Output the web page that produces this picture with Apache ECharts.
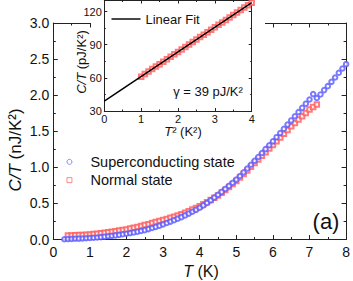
<!DOCTYPE html>
<html><head><meta charset="utf-8">
<script src="https://cdn.jsdelivr.net/npm/echarts@6/dist/echarts.min.js"></script>
<style>html,body{margin:0;padding:0;background:#fff}#c{width:353px;height:281px}</style>
</head><body><div id="c"></div>
<script>
// Superconducting state (blue circles): T (K) and C/T (nJ/K^2)
const tSC = [0.3,0.4,0.5,0.6,0.7,0.8,0.9,1.0,1.1,1.2,1.3,1.4,1.5,1.6,1.7,1.8,1.9,2.0,2.1,2.2,2.3,2.4,2.5,2.6,2.7,2.8,2.9,3.0,3.1,3.2,3.3,3.4,3.5,3.6,3.7,3.8,3.9,4.0,4.1,4.2,4.3,4.4,4.5,4.6,4.7,4.8,4.9,5.0,5.1,5.2,5.3,5.4,5.5,5.6,5.7,5.8,5.9,6.0,6.1,6.2,6.3,6.4,6.5,6.6,6.7,6.8,6.9,7.0,7.1,7.2,7.3,7.4,7.5,7.6,7.7,7.8,7.9,8.0];
const cSC = [0.004,0.006,0.008,0.010,0.012,0.014,0.017,0.020,0.024,0.028,0.033,0.039,0.045,0.051,0.057,0.064,0.072,0.080,0.089,0.098,0.108,0.119,0.130,0.144,0.159,0.175,0.192,0.210,0.229,0.248,0.268,0.289,0.310,0.334,0.359,0.384,0.411,0.440,0.473,0.507,0.543,0.581,0.620,0.660,0.701,0.743,0.786,0.830,0.880,0.931,0.983,1.036,1.090,1.144,1.198,1.252,1.306,1.360,1.418,1.476,1.534,1.592,1.650,1.708,1.766,1.824,1.882,1.940,2.015,1.960,2.010,2.070,2.125,2.185,2.245,2.310,2.370,2.430];
// Normal state (red squares)
const tN = [0.4,0.5,0.6,0.7,0.8,0.9,1.0,1.1,1.2,1.3,1.4,1.5,1.6,1.7,1.8,1.9,2.0,2.1,2.2,2.3,2.4,2.5,2.6,2.7,2.8,2.9,3.0,3.1,3.2,3.3,3.4,3.5,3.6,3.7,3.8,3.9,4.0,4.1,4.2,4.3,4.4,4.5,4.6,4.7,4.8,4.9,5.0,5.1,5.2,5.3,5.4,5.5,5.6,5.7,5.8,5.9,6.0,6.1,6.2,6.3,6.4,6.5,6.6,6.7,6.8,6.9,7.0,7.1,7.2];
const cN = [0.055,0.057,0.059,0.061,0.064,0.067,0.070,0.075,0.080,0.085,0.092,0.100,0.107,0.115,0.123,0.131,0.140,0.151,0.162,0.174,0.187,0.200,0.213,0.227,0.241,0.255,0.270,0.285,0.300,0.316,0.333,0.350,0.371,0.392,0.414,0.437,0.460,0.487,0.516,0.546,0.578,0.610,0.648,0.687,0.727,0.768,0.810,0.858,0.907,0.957,1.008,1.060,1.110,1.160,1.210,1.260,1.310,1.362,1.414,1.466,1.518,1.570,1.616,1.662,1.708,1.754,1.800,1.835,1.870];
// Inset: T^2 (K^2) and C/T (pJ/K^2)
const t2Inset = [1.0,1.1,1.2,1.3,1.4,1.5,1.6,1.7,1.8,1.9,2.0,2.1,2.2,2.3,2.4,2.5,2.6,2.7,2.8,2.9,3.0,3.1,3.2,3.3,3.4,3.5,3.6,3.7,3.8,3.9,4.0];
const cInset = [61.0,63.5,65.8,68.0,70.2,72.4,74.6,76.8,79.0,81.3,83.5,85.7,88.0,90.2,92.4,94.6,96.9,99.1,101.3,103.5,105.8,108.0,110.2,112.4,114.7,116.9,119.1,121.3,123.6,125.8,128.0];
const fitT2 = [0, 4];
const fitC = [39, 128];
const legendNames = ['Superconducting state', 'Normal state'];
const fitName = 'Linear Fit';

const FF = '"Liberation Sans", Arial, Helvetica, sans-serif';
const AX = '#222';
const TXT = '#111';
const BLUE = '#5a5aff';
const RED = '#ff5a5a';

function axis(o) {
  return {
    gridIndex: o.grid, position: o.pos, type: 'value', min: o.min, max: o.max, interval: o.interval,
    z: o.z || 0,
    axisLine: { show: true, onZero: false, lineStyle: { color: AX, width: 1 } },
    axisTick: { show: true, inside: true, length: o.tl, lineStyle: { color: AX, width: 1 } },
    minorTick: { show: true, splitNumber: 2, length: o.ml, lineStyle: { color: AX, width: 1 } },
    splitLine: { show: false },
    axisLabel: { show: !!o.label, fontSize: o.fs, fontFamily: FF, color: TXT, margin: o.margin,
      formatter: o.fmt, showMaxLabel: o.showMax !== false }
  };
}

const chart = echarts.init(document.getElementById('c'), null, { renderer: 'svg' });
chart.setOption({
  animation: false,
  backgroundColor: '#fff',
  grid: [
    { left: 53.3, top: 23, width: 293.4, height: 216.5, containLabel: false },
    { left: 104.3, top: 0.5, width: 147.4, height: 110.5, containLabel: false, z: 60 }
  ],
  xAxis: [
    axis({ grid: 0, pos: 'bottom', min: 0, max: 8, interval: 1, tl: 4.5, ml: 2.5, label: true, fs: 14, margin: 5, fmt: v => String(v) }),
    axis({ grid: 0, pos: 'top', min: 0, max: 8, interval: 1, tl: 4.5, ml: 2.5 }),
    axis({ grid: 1, pos: 'bottom', min: 0, max: 4, interval: 1, tl: 3, ml: 1.5, label: true, fs: 11, margin: 2, z: 60, fmt: v => String(v) }),
    axis({ grid: 1, pos: 'top', min: 0, max: 4, interval: 1, tl: 3, ml: 1.5, z: 60 })
  ],
  yAxis: [
    axis({ grid: 0, pos: 'left', min: 0, max: 3, interval: 0.5, tl: 4.5, ml: 2.5, label: true, fs: 14, margin: 4, fmt: v => v.toFixed(1) }),
    axis({ grid: 0, pos: 'right', min: 0, max: 3, interval: 0.5, tl: 4.5, ml: 2.5 }),
    axis({ grid: 1, pos: 'left', min: 30, max: 130, interval: 30, tl: 3, ml: 1.5, label: true, fs: 11, margin: 2.5, z: 60, showMax: false, fmt: v => String(v) }),
    axis({ grid: 1, pos: 'right', min: 30, max: 130, interval: 30, tl: 3, ml: 1.5, z: 60 })
  ],
  legend: [
    {
      orient: 'vertical', left: 66.5, top: 152.7, itemWidth: 5, itemHeight: 5, itemGap: 0, padding: 0,
      textStyle: { fontSize: 14.5, fontFamily: FF, color: TXT, lineHeight: 18.3, padding: [0, 0, 0, 13.5] },
      data: [
        { name: legendNames[0], icon: 'circle', itemStyle: { color: '#fff', borderColor: BLUE, borderWidth: 0.9 } },
        { name: legendNames[1], icon: 'path://M0,0H10V10H0Z', itemStyle: { color: '#fff', borderColor: RED, borderWidth: 0.9 } }
      ]
    },
    {
      orient: 'vertical', left: 111.5, top: 12.5, itemWidth: 29, itemHeight: 13, padding: 0, z: 70,
      textStyle: { fontSize: 13, fontFamily: FF, color: TXT },
      data: [{ name: fitName, icon: 'path://M0,0H40V2H0Z', itemStyle: { color: '#000', borderWidth: 0 } }]
    }
  ],
  graphic: [
    { type: 'rect', z: 50, shape: { x: 91, y: 0, width: 174, height: 141 }, style: { fill: '#fff' } },
    { type: 'text', z: 80, x: 15, y: 150, rotation: Math.PI / 2,
      style: { text: '{i|C/T} (nJ/K²)', fontSize: 17, fontFamily: FF, fill: TXT, align: 'center', verticalAlign: 'middle',
        rich: { i: { fontSize: 17, fontFamily: FF, fontStyle: 'italic', fill: TXT, color: TXT } } } },
    { type: 'text', z: 80, x: 201, y: 271.5,
      style: { text: '{i|T} (K)', fontSize: 16, fontFamily: FF, fill: TXT, align: 'center', verticalAlign: 'middle',
        rich: { i: { fontSize: 16, fontFamily: FF, fontStyle: 'italic', fill: TXT, color: TXT } } } },
    { type: 'text', z: 80, x: 81, y: 62, rotation: Math.PI / 2,
      style: { text: '{i|C/T} (pJ/K²)', fontSize: 13, fontFamily: FF, fill: TXT, align: 'center', verticalAlign: 'middle',
        rich: { i: { fontSize: 13, fontFamily: FF, fontStyle: 'italic', fill: TXT, color: TXT } } } },
    { type: 'text', z: 80, x: 183, y: 131,
      style: { text: '{i|T}² (K²)', fontSize: 13, fontFamily: FF, fill: TXT, align: 'center', verticalAlign: 'middle',
        rich: { i: { fontSize: 13, fontFamily: FF, fontStyle: 'italic', fill: TXT, color: TXT } } } },
    { type: 'text', z: 80, x: 208, y: 91,
      style: { text: 'γ = 39 pJ/K²', fontSize: 13, fontFamily: FF, fill: TXT, align: 'center', verticalAlign: 'middle' } },
    { type: 'text', z: 80, x: 326, y: 221,
      style: { text: '(a)', fontSize: 22, fontFamily: FF, fill: TXT, align: 'center', verticalAlign: 'middle' } }
  ],
  series: [
    { name: legendNames[1], type: 'scatter', xAxisIndex: 0, yAxisIndex: 0, z: 2,
      symbol: 'emptyRect', symbolSize: 4.5, itemStyle: { color: RED, borderWidth: 0.8 },
      data: tN.map((t, i) => [t, cN[i]]) },
    { name: legendNames[0], type: 'scatter', xAxisIndex: 0, yAxisIndex: 0, z: 3,
      symbol: 'emptyCircle', symbolSize: 4.5, itemStyle: { color: BLUE, borderWidth: 0.8 },
      data: tSC.map((t, i) => [t, cSC[i]]) },
    { name: 'Inset data', type: 'scatter', xAxisIndex: 2, yAxisIndex: 2, z: 61,
      symbol: 'emptyRect', symbolSize: 4.5, itemStyle: { color: RED, borderWidth: 0.8 },
      data: t2Inset.map((t, i) => [t, cInset[i]]) },
    { name: fitName, type: 'line', xAxisIndex: 2, yAxisIndex: 2, z: 62, symbol: 'none',
      itemStyle: { color: '#000' }, lineStyle: { color: '#000', width: 1.5 },
      data: fitT2.map((t, i) => [t, fitC[i]]) }
  ]
});
</script></body></html>
